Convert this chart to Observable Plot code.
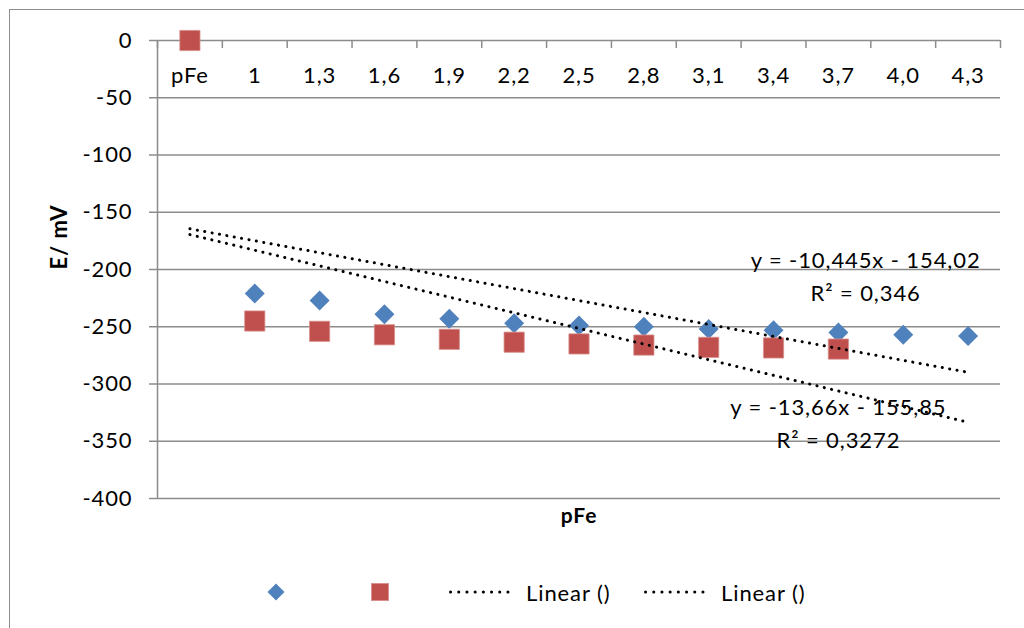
<!DOCTYPE html>
<html>
<head>
<meta charset="utf-8">
<script src="https://cdn.jsdelivr.net/npm/d3@7"></script>
<script src="https://cdn.jsdelivr.net/npm/@observablehq/plot@0.6"></script>
<style>
  html, body { margin: 0; padding: 0; background: #fff; overflow: hidden; }
  #wrap { position: relative; width: 1024px; height: 628px; font-family: Lato, "Open Sans", sans-serif; }
  #frame { position: absolute; left: 9px; top: 9px; width: 1200px; height: 800px; border: 1.5px solid #8c8c8c; box-sizing: border-box; }
  #chart { position: absolute; left: 0; top: 0; }
  #chart svg text { letter-spacing: 0.9px; }
  #legend { position: absolute; left: 0; top: 560px; width: 1024px; height: 64px; font-size: 22px; letter-spacing: 0.9px; color: #000; }
  #legend .item { position: absolute; top: 0; height: 64px; display: flex; align-items: center; }
</style>
</head>
<body>
<div id="wrap">
  <div id="frame"></div>
  <div id="chart"></div>
  <div id="legend"></div>
</div>
<script>
// Categories (x axis labels)
const categories = ["pFe", "1", "1,3", "1,6", "1,9", "2,2", "2,5", "2,8", "3,1", "3,4", "3,7", "4,0", "4,3"];
// Series 1 (blue diamonds); value at "pFe" is hidden under the red square
const blueValues = [0, -221, -227, -239, -243, -247, -249, -250, -252, -253, -255, -257, -258];
// Series 2 (red squares)
const redValues = [0, -245, -254, -257, -261, -263.5, -265, -266, -268, -268.5, -269.5, null, null];
// Y axis ticks
const yTicks = [0, -50, -100, -150, -200, -250, -300, -350, -400];
// Trendline coefficients, as printed on the chart (x = category index 1..13)
const blueTrend = { slope: -10.445, intercept: -154.02, label: "y = -10,445x - 154,02\nR² = 0,346" };
const redTrend = { slope: -13.66, intercept: -155.85, label: "y = -13,66x - 155,85\nR² = 0,3272" };

const BLUE = "#4F81BD";
const RED = "#C0504D";
const GRID = "#8c8c8c";
const FONT = "Lato, 'Open Sans', sans-serif";

const idx = categories.map((c, i) => i + 1);
const bluePts = idx.map((x, i) => ({ x, y: blueValues[i] })).filter(d => d.y != null);
const redPts = idx.map((x, i) => ({ x, y: redValues[i] })).filter(d => d.y != null);
const boundaries = [0.5, ...idx.map(x => x + 0.5)];
const trendLine = t => [idx[0], idx[idx.length - 1]].map(x => ({ x, y: t.slope * x + t.intercept }));

const plot = Plot.plot({
  width: 1024,
  height: 560,
  marginLeft: 157,
  marginRight: 24,
  marginTop: 40,
  marginBottom: 62,
  style: { fontFamily: FONT, fontSize: "22px", background: "transparent", color: "#000" },
  x: { type: "linear", domain: [0.5, 13.5], axis: null },
  y: { domain: [-400, 0], axis: null },
  marks: [
    // horizontal gridlines
    Plot.ruleY(yTicks.filter(d => d < 0), { stroke: GRID, strokeWidth: 1.5 }),
    // left axis line
    Plot.ruleX([0.5], { y1: -400, y2: 0, stroke: GRID, strokeWidth: 1.5 }),
    // zero line (category axis)
    Plot.ruleY([0], { stroke: GRID, strokeWidth: 1.5 }),
    // y axis
    Plot.axisY({ ticks: yTicks, tickSize: 8, tickPadding: 17, stroke: GRID, strokeWidth: 1.5, tickFormat: d => String(d), fontSize: 22, label: null }),
    // category tick marks on the zero line
    Plot.ruleX(boundaries, { x: d => d, y1: 0, y2: 0, insetBottom: -8, stroke: GRID, strokeWidth: 1.5 }),
    // category labels
    Plot.text(categories, { x: (d, i) => idx[i], y: 0, dy: 35, text: d => d, fontSize: 22, fill: "#000" }),
    // blue diamonds
    Plot.dot(bluePts, { x: "x", y: "y", symbol: "diamond2", r: 9, fill: BLUE, stroke: "none" }),
    // red squares
    Plot.dot(redPts, { x: "x", y: "y", symbol: "square", r: 11.4, fill: RED, stroke: "#d8908e", strokeWidth: 0.8 }),
    // trendlines
    Plot.line(trendLine(blueTrend), { x: "x", y: "y", stroke: "#000", strokeWidth: 3, strokeDasharray: "0.1 7.4", strokeLinecap: "round" }),
    Plot.line(trendLine(redTrend), { x: "x", y: "y", stroke: "#000", strokeWidth: 3, strokeDasharray: "0.1 7.4", strokeLinecap: "round" }),
    // trendline equations
    Plot.text([blueTrend.label], { x: 11.42, y: -204, text: d => d, fontSize: 22, lineHeight: 1.5, fill: "#000" }),
    Plot.text([redTrend.label], { x: 11.0, y: -332.5, text: d => d, fontSize: 22, lineHeight: 1.5, fill: "#000" }),
    // axis titles
    Plot.text(["E/ mV"], { frameAnchor: "left", dx: -98, rotate: -90, text: d => d, fontSize: 22, fontWeight: "bold", fill: "#000" }),
    Plot.text(["pFe"], { frameAnchor: "bottom", dy: 24, text: d => d, fontSize: 21, fontWeight: "bold", fill: "#000" })
  ]
});
document.getElementById("chart").appendChild(plot);

// Legend
const legend = document.getElementById("legend");
const dotted = `<svg width="68" height="10" style="margin-right:9px"><line x1="1.5" y1="5" x2="66.5" y2="5" stroke="#000" stroke-width="3" stroke-dasharray="0.1 8.1" stroke-linecap="round"/></svg>`;
const items = [
  { left: 267, html: `<svg width="18" height="18"><path d="M9 0.5 L17.5 9 L9 17.5 L0.5 9 Z" fill="${BLUE}"/></svg>` },
  { left: 371, html: `<svg width="18" height="18"><rect x="0.4" y="0.4" width="17.2" height="17.2" fill="${RED}" stroke="#d8908e" stroke-width="0.8"/></svg>` },
  { left: 449, html: dotted + `<span>Linear ()</span>` },
  { left: 644, html: dotted + `<span>Linear ()</span>` }
];
for (const it of items) {
  const d = document.createElement("div");
  d.className = "item";
  d.style.left = it.left + "px";
  d.innerHTML = it.html;
  legend.appendChild(d);
}
</script>
</body>
</html>
